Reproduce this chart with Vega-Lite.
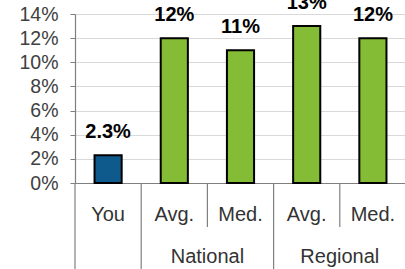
{
  "$schema": "https://vega.github.io/schema/vega-lite/v6.json",
  "width": 331,
  "height": 169,
  "autosize": {"type": "none"},
  "padding": {"left": 75, "top": 14, "right": 0, "bottom": 86},
  "background": "white",
  "config": {
    "view": {"stroke": null},
    "font": "Liberation Sans",
    "axis": {"labelFont": "Liberation Sans", "labelColor": "#404040"},
    "axisY": {
      "title": null, "labelFontSize": 19.5, "labelPadding": 12, "tickSize": 5, "tickColor": "#7f7f7f",
      "labelOverlap": false, "labelFlush": false, "labelBound": false,
      "domainColor": "#7f7f7f", "domainWidth": 1.2, "gridColor": "#d9d9d9", "gridWidth": 1,
      "labelColor": "#404040"
    }
  },
  "datasets": {
    "bars": [
      {"cat": "You", "value": 0.023, "label": "2.3%", "kind": "you"},
      {"cat": "NatAvg", "value": 0.12, "label": "12%", "kind": "bench"},
      {"cat": "NatMed", "value": 0.11, "label": "11%", "kind": "bench"},
      {"cat": "RegAvg", "value": 0.13, "label": "13%", "kind": "bench"},
      {"cat": "RegMed", "value": 0.12, "label": "12%", "kind": "bench"}
    ],
    "seps": [
      {"cat": "You", "kind": "full"},
      {"cat": "NatAvg", "kind": "full"},
      {"cat": "NatMed", "kind": "short"},
      {"cat": "RegAvg", "kind": "full"},
      {"cat": "RegMed", "kind": "short"}
    ],
    "groups": [
      {"cat": "NatAvg", "group": "National"},
      {"cat": "RegAvg", "group": "Regional"}
    ]
  },
  "layer": [
    {
      "data": {"name": "bars"},
      "mark": {"type": "bar", "width": {"band": 0.41}, "stroke": "black", "strokeWidth": 2},
      "encoding": {
        "x": {
          "field": "cat", "type": "nominal", "sort": null,
          "scale": {"domain": ["You", "NatAvg", "NatMed", "RegAvg", "RegMed"], "paddingInner": 0, "paddingOuter": 0},
          "axis": {
            "title": null, "ticks": false, "labelAngle": 0, "labelFontSize": 20, "labelPadding": 31,
            "labelBaseline": "middle",
            "labelColor": "#333333", "domainColor": "#7f7f7f", "domainWidth": 1.2,
            "labelExpr": "datum.value == 'You' ? 'You' : (indexof(datum.value, 'Avg') >= 0 ? 'Avg.' : 'Med.')"
          }
        },
        "y": {
          "field": "value", "type": "quantitative",
          "scale": {"domain": [0, 0.14], "nice": false},
          "axis": {"format": ".0%", "values": [0, 0.02, 0.04, 0.06, 0.08, 0.1, 0.12, 0.14], "tickCount": 8}
        },
        "color": {"field": "kind", "type": "nominal", "scale": {"domain": ["you", "bench"], "range": ["#0F5A8C", "#84BC35"]}, "legend": null}
      }
    },
    {
      "data": {"name": "bars"},
      "mark": {"type": "text", "fontWeight": "bold", "fontSize": 20, "baseline": "alphabetic", "dy": -17, "color": "black"},
      "encoding": {
        "x": {"field": "cat", "type": "nominal"},
        "y": {"field": "value", "type": "quantitative", "axis": {"format": ".0%", "values": [0, 0.02, 0.04, 0.06, 0.08, 0.1, 0.12, 0.14], "tickCount": 8}},
        "text": {"field": "label"}
      }
    },
    {
      "data": {"name": "seps"},
      "transform": [{"filter": "datum.kind == 'full'"}],
      "mark": {"type": "rule", "color": "#7f7f7f", "strokeWidth": 1.2},
      "encoding": {
        "x": {"field": "cat", "type": "nominal", "bandPosition": 0},
        "y": {"datum": 0, "axis": {"format": ".0%", "values": [0, 0.02, 0.04, 0.06, 0.08, 0.1, 0.12, 0.14], "tickCount": 8}},
        "y2": {"datum": -0.075}
      }
    },
    {
      "data": {"name": "seps"},
      "transform": [{"filter": "datum.kind == 'short'"}],
      "mark": {"type": "rule", "color": "#7f7f7f", "strokeWidth": 1.2},
      "encoding": {
        "x": {"field": "cat", "type": "nominal", "bandPosition": 0},
        "y": {"datum": 0, "axis": {"format": ".0%", "values": [0, 0.02, 0.04, 0.06, 0.08, 0.1, 0.12, 0.14], "tickCount": 8}},
        "y2": {"datum": -0.0365}
      }
    },
    {
      "data": {"name": "groups"},
      "mark": {"type": "text", "fontSize": 20, "color": "#333333", "baseline": "middle"},
      "encoding": {
        "x": {"field": "cat", "type": "nominal", "bandPosition": 1},
        "y": {"datum": -0.0613, "axis": {"format": ".0%", "values": [0, 0.02, 0.04, 0.06, 0.08, 0.1, 0.12, 0.14], "tickCount": 8}},
        "text": {"field": "group"}
      }
    }
  ]
}
